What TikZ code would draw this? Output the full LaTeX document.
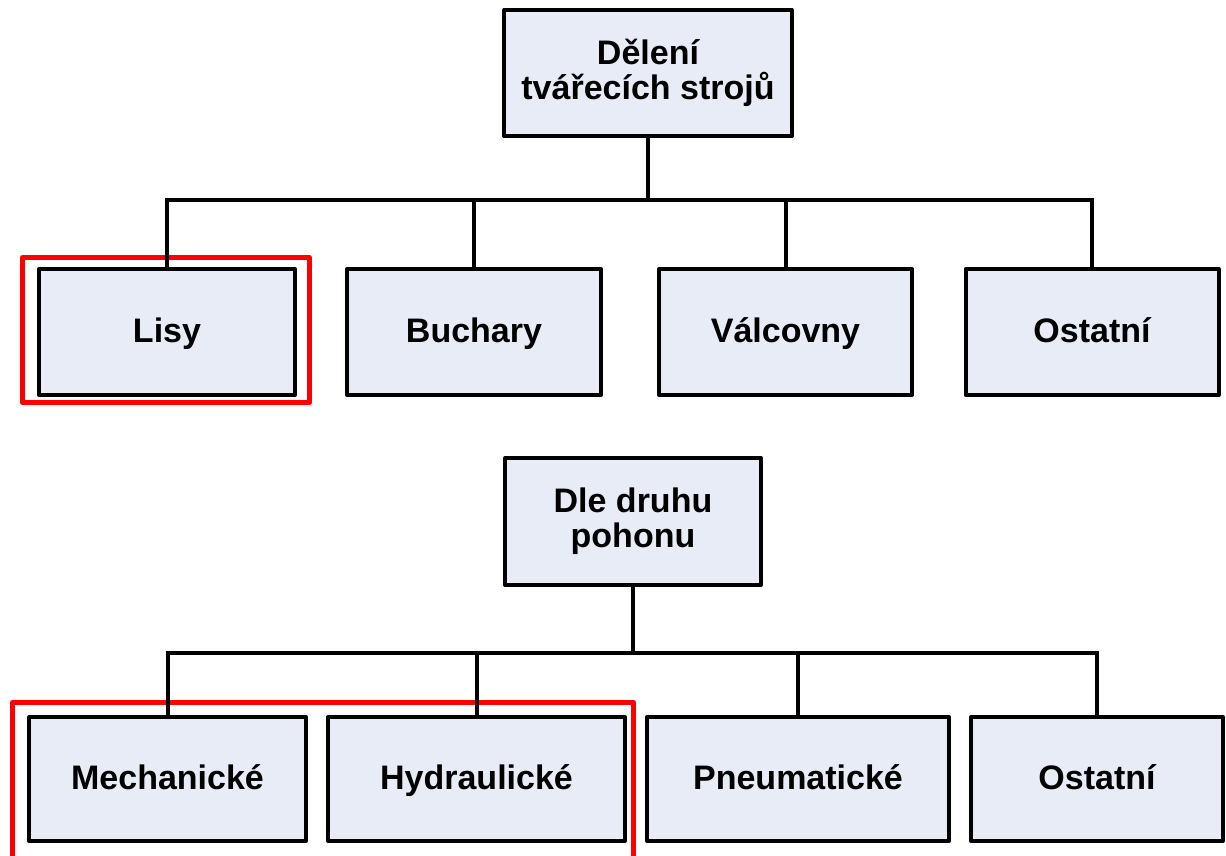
\documentclass[tikz,border=0pt]{standalone}
\usepackage{fontspec}
\setmainfont{Liberation Sans}
\definecolor{boxfill}{RGB}{231,236,247}
\definecolor{hlred}{RGB}{255,0,0}
\begin{document}
\begin{tikzpicture}[x=1pt,y=-1pt,
  box/.style={draw=black, line width=4pt, fill=boxfill, line join=round,
    rectangle, inner sep=0pt, outer sep=0pt, minimum height=126pt,
    align=center, font=\fontsize{34}{35}\selectfont\bfseries},
  onebox/.style={box, text height=27pt, text depth=6pt},
  conn/.style={draw=black, line width=4pt},
  hl/.style={draw=hlred, line width=5pt, line join=round}]
\useasboundingbox (0,0) rectangle (1226,856);
% red highlight frames
\draw[hl] (22.5,257.5) rectangle (309.5,402.5);
\draw[hl] (12.5,860) -- (12.5,702.5) -- (633.5,702.5) -- (633.5,860);
% top tree
\node[box, minimum width=288pt] (top) at (648,73) {Dělení\\tvářecích strojů};
\node[onebox, minimum width=256pt] (lisy) at (167,332) {Lisy};
\node[onebox, minimum width=254pt] (buch) at (474,332) {Buchary};
\node[onebox, minimum width=253pt] (valc) at (785.5,332) {Válcovny};
\node[onebox, minimum width=253pt] (ost1) at (1092,332) {Ostatní};
\coordinate (bus1) at (648,200);
\draw[conn] (top.south) -- (bus1);
\draw[conn] (lisy.north) |- (bus1);
\draw[conn] (buch.north) |- (bus1);
\draw[conn] (valc.north) |- (bus1);
\draw[conn] (ost1.north) |- (bus1);
% bottom tree
\node[box, minimum width=256pt, minimum height=127pt] (dle) at (633,521.5) {Dle druhu\\pohonu};
\node[onebox, minimum width=277pt, minimum height=124pt] (mech) at (167.5,779) {Mechanické};
\node[onebox, minimum width=297pt, minimum height=124pt] (hydr) at (476.5,779) {Hydraulické};
\node[onebox, minimum width=302pt, minimum height=124pt] (pneu) at (798,779) {Pneumatické};
\node[onebox, minimum width=252pt, minimum height=124pt] (ost2) at (1097,779) {Ostatní};
\coordinate (bus2) at (633,653);
\draw[conn] (dle.south) -- (bus2);
\draw[conn] (mech.north) |- (bus2);
\draw[conn] (hydr.north) |- (bus2);
\draw[conn] (pneu.north) |- (bus2);
\draw[conn] (ost2.north) |- (bus2);
\end{tikzpicture}
\end{document}
